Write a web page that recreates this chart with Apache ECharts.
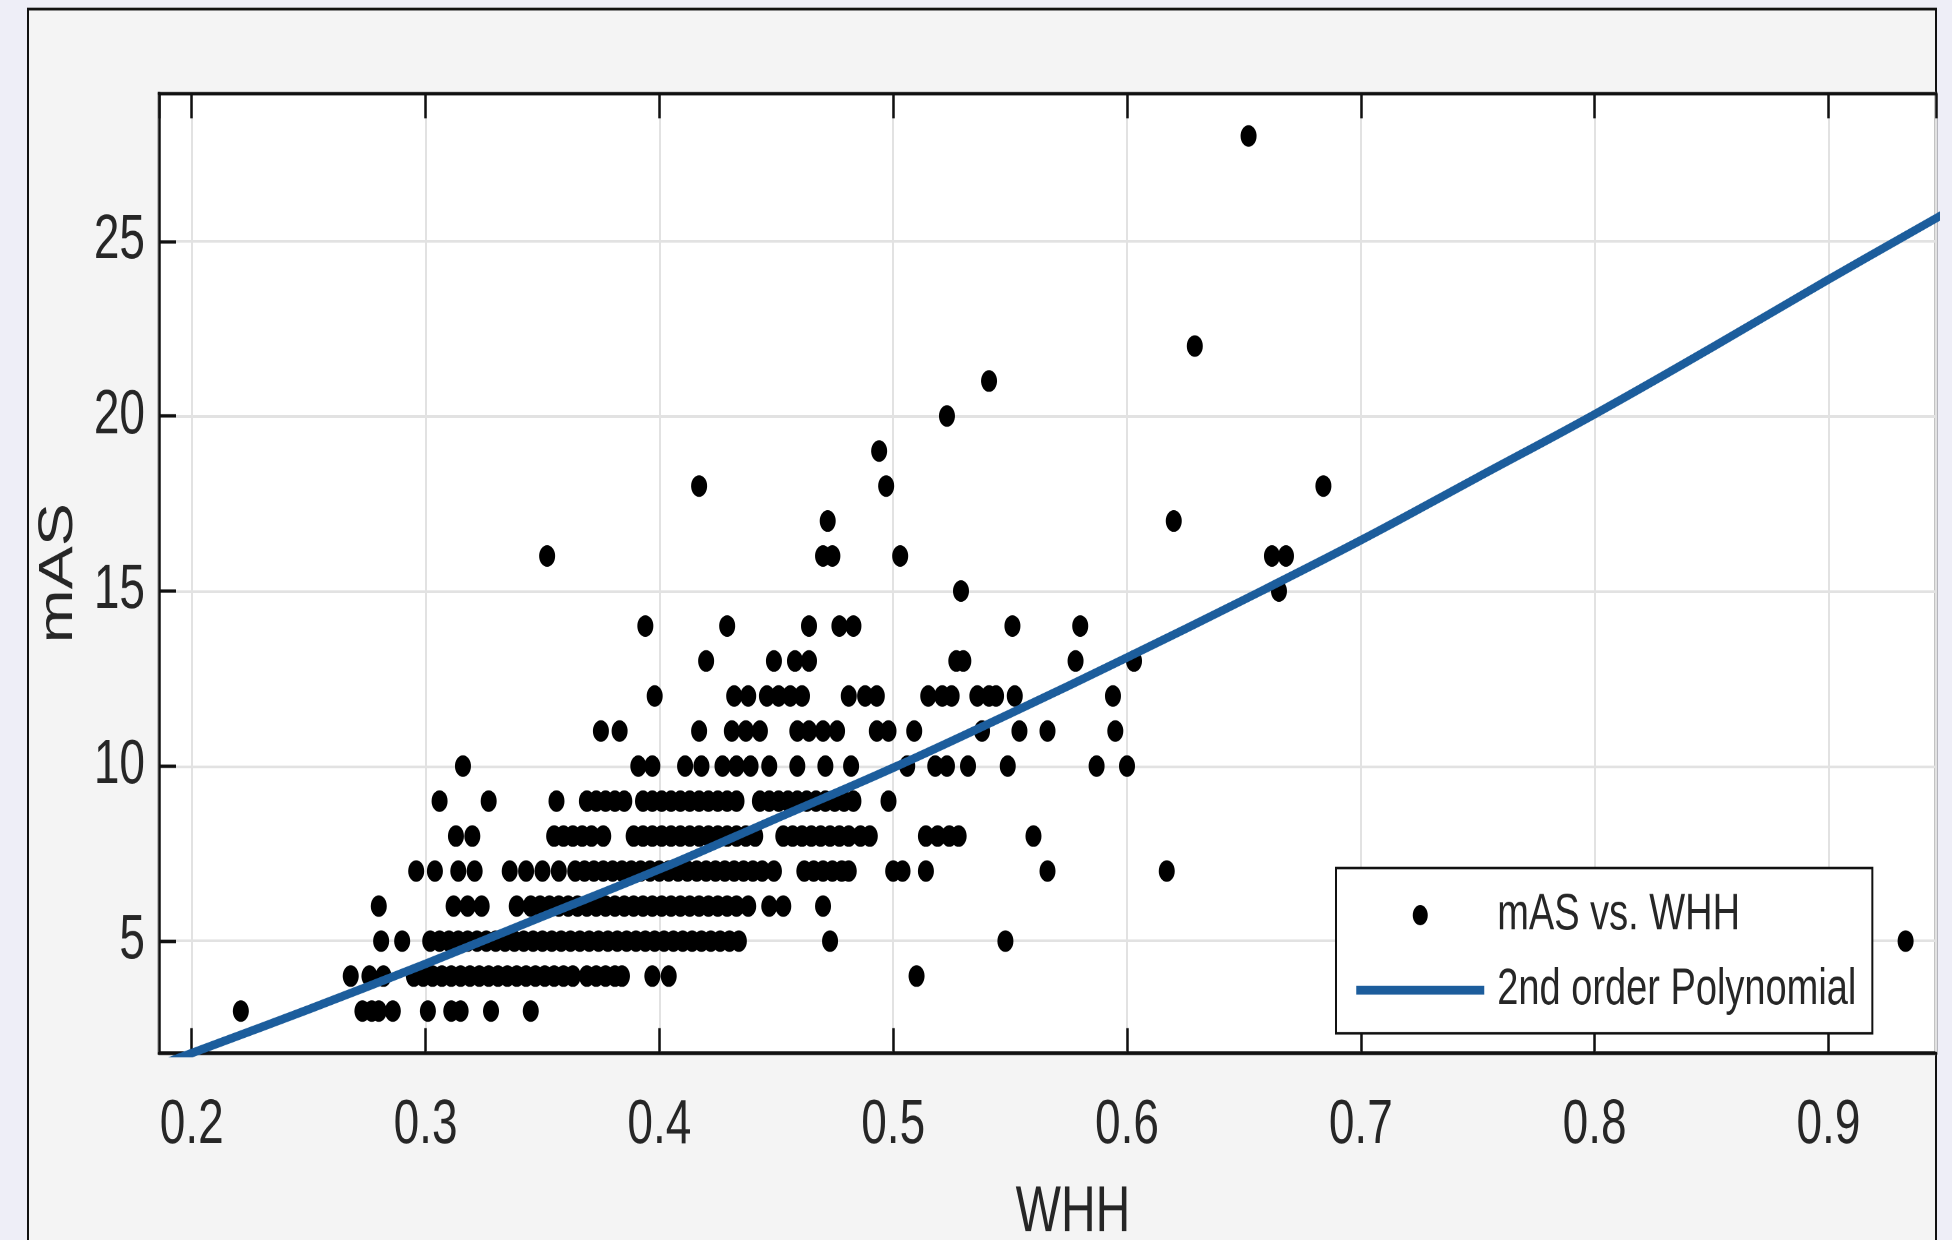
<!DOCTYPE html>
<html>
<head>
<meta charset="utf-8">
<script src="https://cdn.jsdelivr.net/npm/echarts@6/dist/echarts.min.js"></script>
<style>
html,body{margin:0;padding:0;background:#eeeef7;overflow:hidden;}
#wrap{width:1952px;height:1240px;overflow:hidden;}
/* the reference figure is a vertically stretched MATLAB export: reproduce that stretch */
#c{width:1952px;height:920px;transform:scaleY(1.347826);transform-origin:0 0;}
</style>
</head>
<body>
<div id="wrap"><div id="c"></div></div>
<script>
// ---- data ----
const xTicks = [0.2, 0.3, 0.4, 0.5, 0.6, 0.7, 0.8, 0.9];
const yTicks = [5, 10, 15, 20, 25];
const masLevels = [3, 4, 5, 6, 7, 8, 9, 10, 11, 12, 13, 14, 15, 16, 17, 18, 19, 20, 21, 22, 28];

const whh3 = [0.221, 0.273, 0.277, 0.280, 0.286, 0.301, 0.311, 0.315, 0.328, 0.345];
const whh4 = [0.268, 0.276, 0.282, 0.295, 0.299, 0.303, 0.307, 0.311, 0.315, 0.319, 0.323, 0.327, 0.331, 0.335, 0.339, 0.343, 0.347, 0.351, 0.355, 0.359, 0.363, 0.369, 0.373, 0.377, 0.381, 0.384, 0.397, 0.404, 0.510];
const whh5 = [0.281, 0.290, 0.302, 0.306, 0.310, 0.314, 0.318, 0.322, 0.326, 0.330, 0.334, 0.338, 0.342, 0.346, 0.350, 0.354, 0.358, 0.362, 0.366, 0.370, 0.374, 0.378, 0.382, 0.386, 0.390, 0.394, 0.398, 0.402, 0.406, 0.410, 0.414, 0.418, 0.422, 0.426, 0.430, 0.434, 0.473, 0.548, 0.933];
const whh6 = [0.280, 0.312, 0.318, 0.324, 0.339, 0.345, 0.349, 0.353, 0.357, 0.361, 0.365, 0.369, 0.373, 0.377, 0.381, 0.385, 0.389, 0.393, 0.397, 0.401, 0.405, 0.409, 0.413, 0.417, 0.421, 0.425, 0.429, 0.433, 0.438, 0.447, 0.453, 0.470];
const whh7 = [0.296, 0.304, 0.314, 0.321, 0.336, 0.343, 0.350, 0.357, 0.364, 0.368, 0.372, 0.376, 0.380, 0.384, 0.388, 0.392, 0.396, 0.400, 0.404, 0.408, 0.412, 0.416, 0.420, 0.424, 0.428, 0.432, 0.436, 0.440, 0.444, 0.449, 0.462, 0.466, 0.470, 0.474, 0.478, 0.481, 0.500, 0.504, 0.514, 0.566, 0.617];
const whh8 = [0.313, 0.320, 0.355, 0.359, 0.363, 0.367, 0.371, 0.376, 0.389, 0.393, 0.397, 0.401, 0.405, 0.409, 0.413, 0.417, 0.421, 0.425, 0.429, 0.433, 0.437, 0.441, 0.453, 0.457, 0.461, 0.465, 0.469, 0.473, 0.477, 0.481, 0.486, 0.490, 0.514, 0.519, 0.524, 0.528, 0.560];
const whh9 = [0.306, 0.327, 0.356, 0.369, 0.373, 0.377, 0.381, 0.385, 0.393, 0.397, 0.401, 0.405, 0.409, 0.413, 0.417, 0.421, 0.425, 0.429, 0.433, 0.443, 0.447, 0.451, 0.455, 0.459, 0.463, 0.467, 0.471, 0.475, 0.479, 0.483, 0.498];
const whh10 = [0.316, 0.391, 0.397, 0.411, 0.418, 0.427, 0.433, 0.439, 0.447, 0.459, 0.471, 0.482, 0.506, 0.518, 0.523, 0.532, 0.549, 0.587, 0.600];
const whh11 = [0.375, 0.383, 0.417, 0.431, 0.437, 0.443, 0.459, 0.464, 0.470, 0.476, 0.493, 0.498, 0.509, 0.538, 0.554, 0.566, 0.595];
const whh12 = [0.398, 0.432, 0.438, 0.446, 0.451, 0.456, 0.461, 0.481, 0.488, 0.493, 0.515, 0.521, 0.525, 0.536, 0.541, 0.544, 0.552, 0.594];
const whh13 = [0.420, 0.449, 0.458, 0.464, 0.527, 0.530, 0.578, 0.603];
const whh14 = [0.394, 0.429, 0.464, 0.477, 0.483, 0.551, 0.580];
const whh15 = [0.529, 0.665];
const whh16 = [0.352, 0.470, 0.474, 0.503, 0.662, 0.668];
const whh17 = [0.472, 0.620];
const whh18 = [0.417, 0.497, 0.684];
const whh19 = [0.494];
const whh20 = [0.523];
const whh21 = [0.541];
const whh22 = [0.629];
const whh28 = [0.652];
const whhByLevel = [whh3, whh4, whh5, whh6, whh7, whh8, whh9, whh10, whh11, whh12, whh13, whh14, whh15, whh16, whh17, whh18, whh19, whh20, whh21, whh22, whh28];

// fitted 2nd order polynomial
const fitWhh = [0.19, 0.25, 0.30, 0.35, 0.40, 0.45, 0.50, 0.55, 0.60, 0.65, 0.70, 0.75, 0.80, 0.85, 0.90, 0.95];
const fitMas = [1.55, 3.05, 4.35, 5.70, 7.05, 8.50, 9.95, 11.50, 13.10, 14.75, 16.45, 18.25, 20.05, 21.95, 23.90, 25.80];

// ---- build series data ----
const scatterData = [];
masLevels.forEach((m, i) => whhByLevel[i].forEach(w => scatterData.push([w, m])));
const fitData = fitWhh.map((w, i) => [w, fitMas[i]]);

const font = "'Liberation Sans',Arial,Helvetica,sans-serif";
const txt = '#262626';
const near = (v, arr) => arr.some(t => Math.abs(t - v) < 1e-6);

const chart = echarts.init(document.getElementById('c'), null, {devicePixelRatio: 2});
chart.setOption({
  backgroundColor: '#eeeef7',
  animation: false,
  graphic: [{
    type: 'rect', z: -10, silent: true,
    shape: {x: 28, y: 6.7, width: 1908, height: 1000},
    style: {fill: '#f4f4f4', stroke: '#111', lineWidth: 2}
  }],
  grid: {
    left: 159, top: 69.2, width: 1777, height: 712.1,
    containLabel: false, outerBoundsMode: 'none',
    show: true, backgroundColor: '#ffffff', borderColor: '#111', borderWidth: 2.5
  },
  legend: {
    orient: 'vertical', left: 1336, top: 644,
    padding: [15, 16, 12, 17],
    backgroundColor: '#ffffff', borderColor: '#111', borderWidth: 2, borderRadius: 0,
    itemWidth: 128, itemHeight: 15, itemGap: 15.6,
    textStyle: {fontFamily: font, fontSize: 38, color: txt, lineHeight: 40, padding: [0, 0, 0, 8]},
    data: [
      {name: 'mAS vs. WHH', icon: 'circle'},
      {name: '2nd order Polynomial', itemStyle: {opacity: 0}, lineStyle: {width: 6.5, color: '#1c5d9c'}}
    ]
  },
  xAxis: [{
    type: 'value', min: 0.186, max: 0.946, splitNumber: 8, minInterval: 0.1, maxInterval: 0.1,
    axisLine: {show: true, onZero: false, lineStyle: {color: '#111', width: 2.5}},
    axisTick: {show: true, inside: true, length: 18.5, lineStyle: {color: '#111', width: 2.5}},
    axisLabel: {
      fontFamily: font, fontSize: 46, color: txt, margin: 31,
      showMinLabel: false, showMaxLabel: false,
      formatter: v => near(v, xTicks) ? v.toFixed(1) : ''
    },
    splitLine: {show: true, lineStyle: {color: '#e2e2e2', width: 2}},
    name: 'WHH', nameLocation: 'middle', nameGap: 95,
    nameTextStyle: {fontFamily: font, fontSize: 48, color: txt, padding: [0, 0, 0, 51]}
  }, {
    type: 'value', position: 'top', min: 0.186, max: 0.946, splitNumber: 8, minInterval: 0.1, maxInterval: 0.1,
    axisLine: {show: true, onZero: false, lineStyle: {color: '#111', width: 2.5}},
    axisTick: {show: true, inside: true, length: 18.5, lineStyle: {color: '#111', width: 2.5}},
    axisLabel: {show: false},
    splitLine: {show: false}
  }],
  yAxis: {
    type: 'value', min: 1.8, max: 29.22, splitNumber: 5, minInterval: 5, maxInterval: 5,
    axisLine: {show: true, onZero: false, lineStyle: {color: '#111', width: 2.5}},
    axisTick: {show: true, inside: true, length: 17, lineStyle: {color: '#111', width: 2.5}},
    axisLabel: {
      fontFamily: font, fontSize: 46, color: txt, margin: 14,
      showMinLabel: false, showMaxLabel: false,
      formatter: v => near(v, yTicks) ? String(v) : ''
    },
    splitLine: {show: true, lineStyle: {color: '#e2e2e2', width: 2}},
    name: 'mAS', nameLocation: 'middle', nameGap: 72,
    nameTextStyle: {fontFamily: font, fontSize: 48, color: txt}
  },
  series: [{
    name: 'mAS vs. WHH', type: 'scatter', xAxisIndex: 0,
    symbol: 'circle', symbolSize: 16,
    itemStyle: {color: '#000000', opacity: 1},
    data: scatterData
  }, {
    name: '2nd order Polynomial', type: 'line', xAxisIndex: 0,
    smooth: 0.4, symbol: 'none', clip: true,
    lineStyle: {color: '#1c5d9c', width: 6.5},
    itemStyle: {color: '#1c5d9c'},
    data: fitData
  }]
});
</script>
</body>
</html>
